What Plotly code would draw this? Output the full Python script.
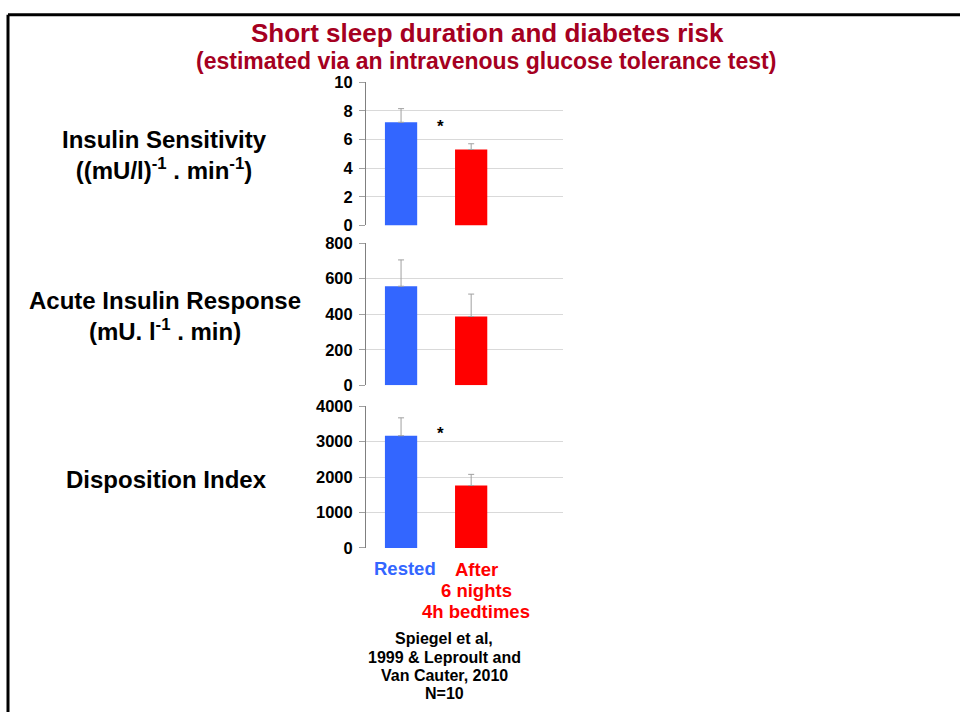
import plotly.graph_objects as go

# ---- data ----
groups = ["Rested", "After"]
insulin_sensitivity = [7.2, 5.3]
insulin_sensitivity_err = [0.95, 0.4]
acute_insulin_response = [557, 387]
acute_insulin_response_err = [148, 126]
disposition_index = [3165, 1760]
disposition_index_err = [505, 315]

bar_colors = ["#3366FF", "#FF0000"]
FONT = "Liberation Sans, Arial, sans-serif"
W, H = 960, 721

fig = go.Figure()

panels = [
    (insulin_sensitivity, insulin_sensitivity_err, [0, 10], 2, (75, 222)),
    (acute_insulin_response, acute_insulin_response_err, [0, 800], 200, (240, 386)),
    (disposition_index, disposition_index_err, [0, 4000], 1000, (407.3, 552.7)),
]

x_dom = [366 / W, 563 / W]
for i, (vals, errs, yr, dt, (top, bot)) in enumerate(panels):
    n = "" if i == 0 else str(i + 1)
    fig.add_trace(go.Bar(
        x=groups, y=vals, width=0.46,
        marker=dict(color=bar_colors, line=dict(width=0)),
        error_y=dict(type="data", array=errs, arrayminus=[0] * len(errs),
                     symmetric=False, color="#A0A0A0", thickness=1, width=3),
        xaxis="x" + n, yaxis="y" + n, showlegend=False,
    ))
    fig.update_layout(**{
        "xaxis" + n: dict(domain=x_dom, anchor="y" + n, type="category",
                          range=[-0.5, 2.31], showticklabels=False,
                          showgrid=False, zeroline=False, showline=False, ticks=""),
        "yaxis" + n: dict(domain=[1 - bot / H, 1 - top / H], anchor="x" + n,
                          range=yr, dtick=dt, tick0=0, showgrid=True,
                          gridcolor="#D9D9D9", gridwidth=1, zeroline=False,
                          showline=True, linecolor="#808080", linewidth=1,
                          ticks="outside", ticklen=6, tickcolor="#A0A0A0",
                          tickfont=dict(family=FONT, size=16.5, color="black",
                                        weight="bold"),
                          ticklabelstandoff=3),
    })

annotations = []

def ann(text, x, y, size, color="black", xanchor="center", yanchor="middle", **kw):
    annotations.append(dict(text=text, x=x / W, y=1 - y / H, xref="paper", yref="paper",
                            xanchor=xanchor, yanchor=yanchor, showarrow=False,
                            font=dict(family=FONT, size=size, color=color, weight="bold"),
                            **kw))

ann("Short sleep duration and diabetes risk", 487, 25, 26, "#A50021")
ann("(estimated via an intravenous glucose tolerance test)", 486, 53, 23, "#A50021")

ann("Insulin Sensitivity<br>((mU/l)<sup>-1</sup> . min<sup>-1</sup>)", 164, 150, 24, align="center")
ann("Acute Insulin Response<br>(mU. l<sup>-1</sup> . min)", 165, 315, 24, align="center")
ann("Disposition Index", 166, 483, 24)

# significance stars
ann("*", 440, 120, 17)
ann("*", 440, 435, 17)

ann("Rested", 405, 574, 18.5, "#3366FF")
after_lines = ["After", "6 nights", "4h bedtimes"]
for k, line in enumerate(after_lines):
    ann(line, 476, 575 + 21.5 * k, 18.5, "#FF0000")
cite_lines = ["Spiegel et al,", "1999 &amp; Leproult and", "Van Cauter, 2010", "N=10"]
for k, line in enumerate(cite_lines):
    ann(line, 444, 646 + 18.8 * k, 16)

fig.update_layout(
    width=W, height=H,
    margin=dict(l=0, r=0, t=0, b=0),
    paper_bgcolor="white", plot_bgcolor="white",
    annotations=annotations,
    shapes=[
        dict(type="line", xref="paper", yref="paper", x0=8 / W, x1=1, y0=1 - 6 / H, y1=1 - 6 / H,
             line=dict(color="black", width=3)),
        dict(type="line", xref="paper", yref="paper", x0=8 / W, x1=8 / W, y0=0, y1=1 - 6 / H,
             line=dict(color="black", width=3)),
    ],
)

fig.write_html("out.html", post_script="document.body.style.margin='0';")
